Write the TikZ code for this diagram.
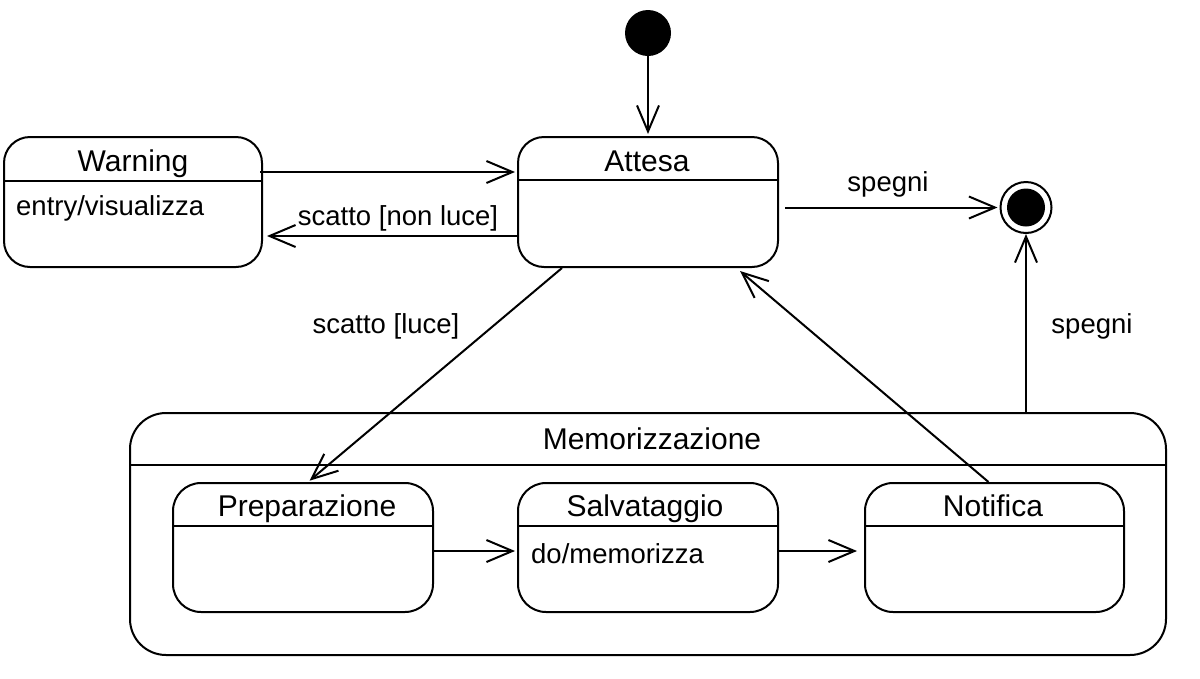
\documentclass[tikz,border=0pt]{standalone}
\usepackage{fontspec}
\setmainfont{Liberation Sans}
\usetikzlibrary{arrows.meta}
\tikzset{
  stbox/.style={draw, line width=2pt, rounded corners=26pt, inner sep=0pt},
  ttl/.style={font=\fontsize{30}{34}\selectfont, inner sep=0pt, anchor=base},
  lbl/.style={font=\fontsize{27.5}{31}\selectfont, inner sep=0pt, anchor=base},
  trans/.style={draw, line width=2pt, -{Straight Barb[length=26pt,width=22pt,line width=2pt]}},
  divline/.style={draw, line width=2pt}
}
\begin{document}
\begin{tikzpicture}[x=1pt,y=-1pt]
\useasboundingbox (0,0) rectangle (1200,678);
% initial and final
\node[circle, fill=black, minimum size=46pt, inner sep=0pt] (init) at (648,33) {};
\node[circle, draw, line width=2pt, minimum size=51pt, inner sep=0pt] (fin) at (1026,207.5) {};
\node[circle, fill=black, minimum size=38pt, inner sep=0pt] (finin) at (1026,207.5) {};
% Warning
\node[stbox, minimum width=258pt, minimum height=130pt] (warn) at (133,202) {};
\draw[divline] (4,181) -- (262,181);
\node[ttl] (warnt) at (133,171.5) {Warning};
\node[lbl, anchor=base west] (warna) at (16,215) {entry/visualizza};
% Attesa
\node[stbox, minimum width=260pt, minimum height=130pt] (attesa) at (648,202) {};
\draw[divline] (518,180) -- (778,180);
\node[ttl] (attesat) at (647,171) {Attesa};
% Memorizzazione
\node[stbox, rounded corners=36pt, minimum width=1036pt, minimum height=242pt] (memo) at (648,534) {};
\draw[divline] (130,465) -- (1166,465);
\node[ttl] (memot) at (652,449) {Memorizzazione};
% inner states
\node[stbox, rounded corners=28pt, minimum width=260pt, minimum height=129pt] (prep) at (303,547.5) {};
\draw[divline] (173,526) -- (433,526);
\node[ttl] (prept) at (307,516) {Preparazione};
\node[stbox, rounded corners=28pt, minimum width=260pt, minimum height=129pt] (salv) at (648,547.5) {};
\draw[divline] (518,526) -- (778,526);
\node[ttl] (salvt) at (645,516) {Salvataggio};
\node[lbl, anchor=base west] (salva) at (531,563) {do/memorizza};
\node[stbox, rounded corners=28pt, minimum width=259pt, minimum height=129pt] (notif) at (994.5,547.5) {};
\draw[divline] (865,526) -- (1124,526);
\node[ttl] (notift) at (993,516) {Notifica};
% transitions
\draw[trans, shorten >=2pt] (init) -- (attesa.north);
\draw[trans, shorten >=2pt] ([xshift=-3pt,yshift=30pt]warn.east) -- ([yshift=30pt]attesa.west);
\draw[trans, shorten >=4pt] ([yshift=-34pt]attesa.west) -- ([yshift=-34pt]warn.east);
\node[lbl] (l1) at (398,225) {scatto [non luce]};
\draw[trans, shorten <=6pt, shorten >=2pt] (attesa.east |- fin.west) -- (fin.west);
\node[lbl] (l2) at (888,191.5) {spegni};
\draw[trans] ([xshift=378pt]memo.north) -- (fin.south);
\node[lbl] (l3) at (1092,333) {spegni};
\draw[trans, shorten >=2pt] ([xshift=-86pt]attesa.south) -- ([xshift=5pt]prep.north);
\node[lbl] (l4) at (386,333.5) {scatto [luce]};
\draw[trans] ([xshift=-6pt]notif.north) -- ([xshift=92pt,yshift=-3pt]attesa.south);
\draw[trans, shorten >=2pt] (prep.east |- 0,551) -- (salv.west |- 0,551);
\draw[trans, shorten >=7pt] (salv.east |- 0,551) -- (notif.west |- 0,551);
\end{tikzpicture}
\end{document}
